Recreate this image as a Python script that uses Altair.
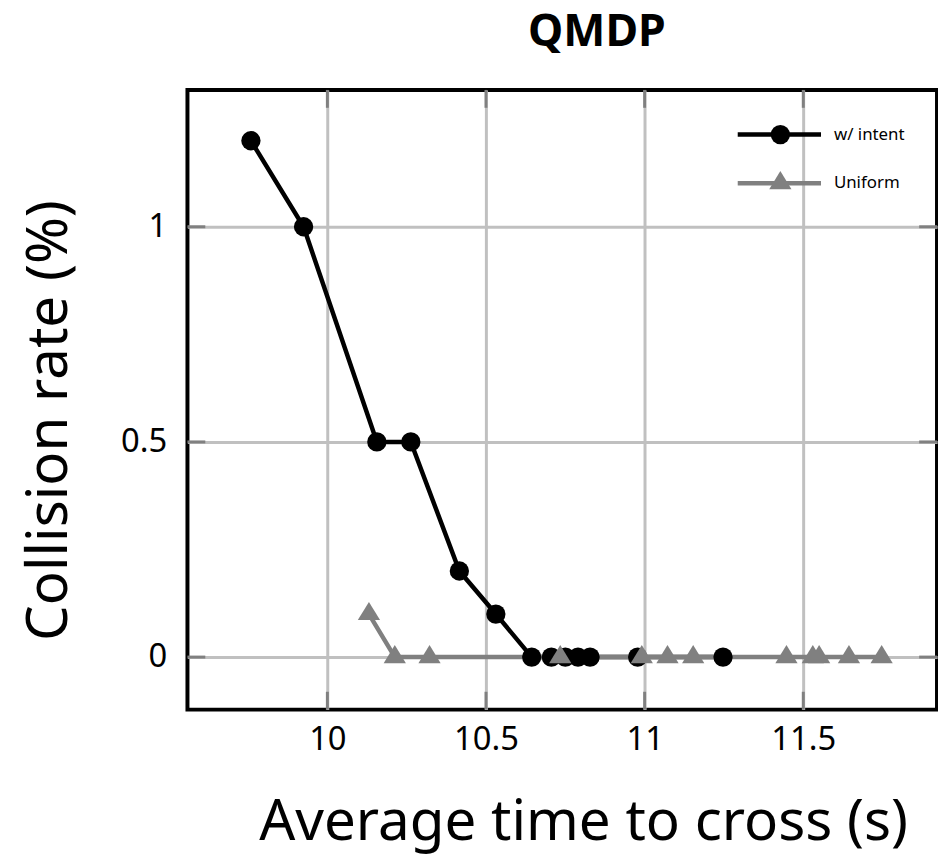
import altair as alt
import pandas as pd

# ---- data ----
series_names = ["w/ intent", "Uniform"]
series_colors = ["#000000", "#808080"]

black_x = [9.759, 9.925, 10.156, 10.263, 10.416, 10.531, 10.644, 10.706, 10.75, 10.79, 10.828, 10.978, 11.247]
black_y = [1.2, 1.0, 0.5, 0.5, 0.2, 0.1, 0, 0, 0, 0, 0, 0, 0]

gray_x = [10.131, 10.2125, 10.322, 10.734, 10.991, 11.072, 11.153, 11.447, 11.53, 11.55, 11.644, 11.747]
gray_y = [0.1, 0, 0, 0, 0, 0, 0, 0, 0, 0, 0, 0]

x_ticks = [10, 10.5, 11, 11.5]
y_ticks = [0, 0.5, 1]

x_domain = [9.559, 11.9215]
y_domain = [-0.1221, 1.318]

W, H = 756, 625
FONT = "Noto Sans"

df_black = pd.DataFrame({"x": black_x, "y": black_y, "series": series_names[0]})
df_gray = pd.DataFrame({"x": gray_x, "y": gray_y, "series": series_names[1]})
df = pd.concat([df_black, df_gray], ignore_index=True)
df_leg = pd.DataFrame({"series": series_names})

tri_path = "M0,-1L0.9167,0.5L-0.9167,0.5Z"

xscale = alt.Scale(domain=x_domain, nice=False, zero=False)
yscale = alt.Scale(domain=y_domain, nice=False, zero=False)
fill_scale = alt.Scale(domain=series_names, range=series_colors)
shape_scale = alt.Scale(domain=series_names, range=["circle", tri_path])
size_scale = alt.Scale(domain=series_names, range=[380, 600])

xaxis = alt.Axis(values=x_ticks, format="~g", grid=True, gridColor="#c0c0c0", gridWidth=3,
                 ticks=False, tickSize=0, domain=False, labelFont=FONT, labelFontSize=33,
                 labelColor="black", labelPadding=40, labelBaseline="alphabetic",
                 labelFlush=False, labelOverlap=False,
                 title="Average time to cross (s)", titleFont=FONT, titleFontSize=57,
                 titleFontWeight="normal", titleColor="black", titleX=399, titleY=131,
                 titleAlign="center", titleBaseline="alphabetic")
yaxis = alt.Axis(values=y_ticks, format="~g", grid=True, gridColor="#c0c0c0", gridWidth=3,
                 ticks=False, tickSize=0, domain=False, labelFont=FONT, labelFontSize=33,
                 labelColor="black", labelPadding=21, labelFlush=False, labelOverlap=False,
                 title="Collision rate (%)", titleFont=FONT, titleFontSize=57,
                 titleFontWeight="normal", titleColor="black", titleX=-122, titleY=333,
                 titleAngle=270, titleAlign="center", titleBaseline="alphabetic")

lines = alt.Chart(df).mark_line(strokeWidth=4.5).encode(
    x=alt.X("x:Q", scale=xscale, axis=xaxis),
    y=alt.Y("y:Q", scale=yscale, axis=yaxis),
    stroke=alt.Stroke("series:N", scale=alt.Scale(domain=series_names, range=series_colors), legend=None),
    order="x:Q",
)

pts = alt.Chart(df).mark_point(filled=True, opacity=1, strokeWidth=0).encode(
    x=alt.X("x:Q", scale=xscale), y=alt.Y("y:Q", scale=yscale),
    fill=alt.Fill("series:N", scale=fill_scale, legend=None),
    shape=alt.Shape("series:N", scale=shape_scale, legend=None),
    size=alt.Size("series:N", scale=size_scale, legend=None),
)

xt = pd.DataFrame({"v": x_ticks})
yt = pd.DataFrame({"v": y_ticks})
TICK = 18
tick_style = dict(color="#808080", strokeWidth=3)

xt_top = alt.Chart(xt).mark_rule(**tick_style).encode(
    x=alt.X("v:Q", scale=xscale), y=alt.value(0), y2=alt.value(TICK))
xt_bot = alt.Chart(xt).mark_rule(**tick_style).encode(
    x=alt.X("v:Q", scale=xscale), y=alt.value(H - TICK), y2=alt.value(H))
yt_left = alt.Chart(yt).mark_rule(**tick_style).encode(
    y=alt.Y("v:Q", scale=yscale), x=alt.value(0), x2=alt.value(TICK))
yt_right = alt.Chart(yt).mark_rule(**tick_style).encode(
    y=alt.Y("v:Q", scale=yscale), x=alt.value(W - TICK), x2=alt.value(W))

main = alt.layer(xt_top, xt_bot, yt_left, yt_right, lines, pts)

# ---- legend (upper right, inside the frame) ----
leg_y = alt.Y("series:N", scale=alt.Scale(type="point", domain=series_names, range=[45, 94], padding=0),
              axis=None)
leg_line = alt.Chart(df_leg).mark_rule(strokeWidth=4.5).encode(
    x=alt.value(555), x2=alt.value(639), y=leg_y,
    stroke=alt.Stroke("series:N", scale=alt.Scale(domain=series_names, range=series_colors), legend=None))
leg_pts = alt.Chart(df_leg).mark_point(filled=True, opacity=1, strokeWidth=0).encode(
    x=alt.value(598), y=leg_y,
    fill=alt.Fill("series:N", scale=fill_scale, legend=None),
    shape=alt.Shape("series:N", scale=shape_scale, legend=None),
    size=alt.Size("series:N", scale=size_scale, legend=None),
)
leg_text = alt.Chart(df_leg).mark_text(align="left", baseline="middle", font=FONT, fontSize=17,
                                       color="black").encode(
    x=alt.value(652), y=leg_y, text="series:N")
leg = alt.layer(leg_line, leg_pts, leg_text)

chart = alt.layer(main, leg).resolve_scale(y="independent").properties(
    width=W, height=H,
    autosize=alt.AutoSizeParams(type="none"),
    padding={"left": 181, "top": 79, "right": 1, "bottom": 145},
    title=alt.TitleParams("QMDP", font=FONT, fontSize=45, fontWeight="bold", color="black",
                          anchor="middle", frame="group", dx=35, dy=2, offset=0, baseline="alphabetic"),
).configure(background="white").configure_view(stroke="black", strokeWidth=4)

chart.save("out.html", embed_options={"renderer": "svg", "actions": False})
